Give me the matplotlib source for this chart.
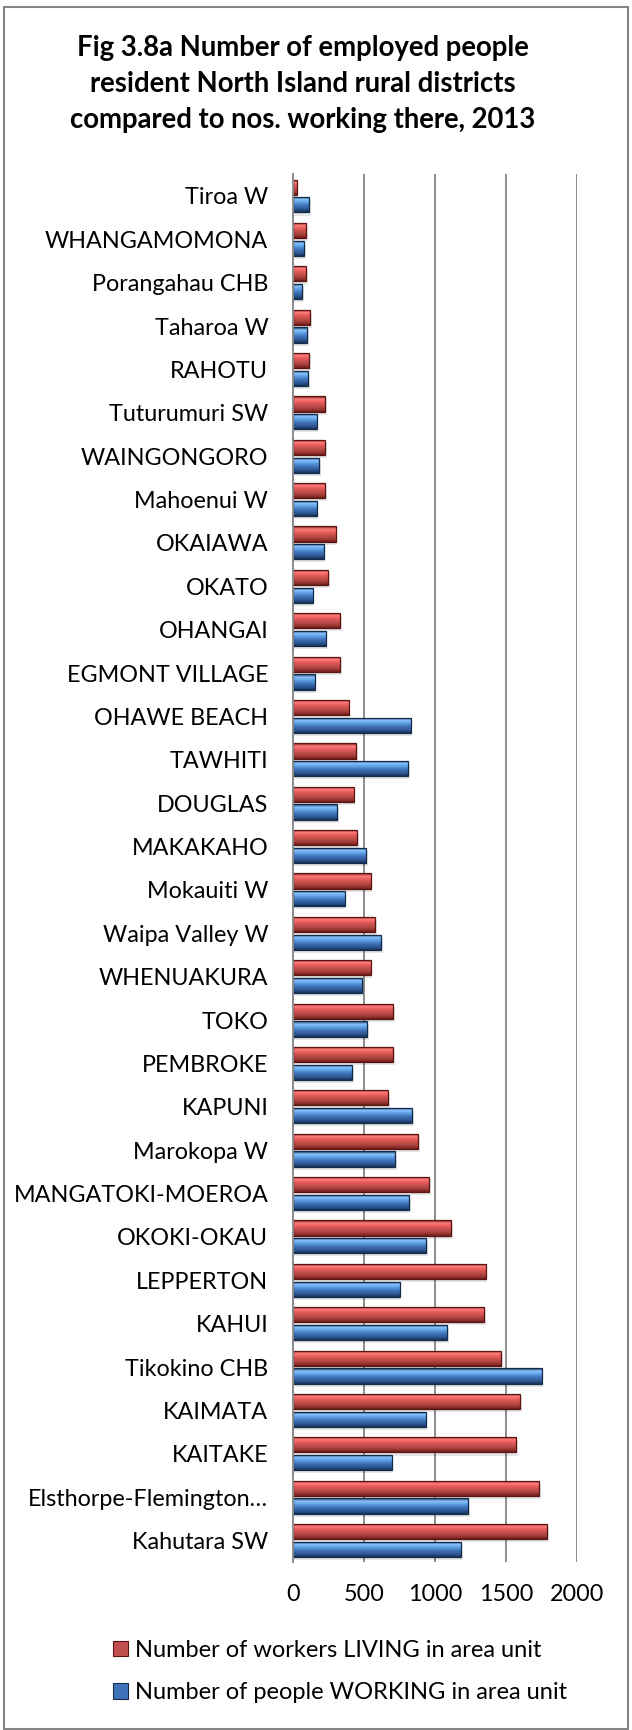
import matplotlib
matplotlib.use("Agg")
import matplotlib.pyplot as plt
import numpy as np
from matplotlib.colors import LinearSegmentedColormap
from matplotlib.patches import Patch, Rectangle

areas = [
    "Tiroa W", "WHANGAMOMONA", "Porangahau CHB", "Taharoa W", "RAHOTU",
    "Tuturumuri SW", "WAINGONGORO", "Mahoenui W", "OKAIAWA", "OKATO",
    "OHANGAI", "EGMONT VILLAGE", "OHAWE BEACH", "TAWHITI", "DOUGLAS",
    "MAKAKAHO", "Mokauiti W", "Waipa Valley W", "WHENUAKURA", "TOKO",
    "PEMBROKE", "KAPUNI", "Marokopa W", "MANGATOKI-MOEROA", "OKOKI-OKAU",
    "LEPPERTON", "KAHUI", "Tikokino CHB", "KAIMATA", "KAITAKE",
    "Elsthorpe-Flemington\u2026", "Kahutara SW",
]
living = [
    24, 89, 89, 118, 110, 224, 224, 224, 299, 245,
    329, 329, 391, 442, 426, 449, 546, 576, 546, 704,
    704, 668, 880, 960, 1115, 1358, 1348, 1468, 1600, 1574,
    1737, 1793,
]
working = [
    110, 75, 61, 96, 103, 165, 181, 165, 214, 136,
    228, 151, 828, 809, 308, 513, 362, 619, 485, 520,
    414, 838, 718, 816, 936, 751, 1087, 1753, 934, 694,
    1235, 1186,
]
series_names = [
    "Number of workers LIVING in area unit",
    "Number of people WORKING in area unit",
]
x_ticks = [0, 500, 1000, 1500, 2000]

W, H = 632, 1730
FONT = ["Lato", "DejaVu Sans"]
plt.rcParams["font.family"] = FONT

red_cmap = LinearSegmentedColormap.from_list(
    "redbevel", ["#7a1f1d", "#ff7d7d", "#e65a58", "#c0504d", "#a63d3a", "#6e1e1c"])
blue_cmap = LinearSegmentedColormap.from_list(
    "bluebevel", ["#1f3a63", "#8ac4ff", "#5b9be0", "#3f72b8", "#2f5a96", "#1b3358"])

fig = plt.figure(figsize=(W / 100, H / 100), dpi=100)
ax_left, ax_right = 293.3 / W, 576.7 / W
ax_top, ax_bot = 174.3 / H, 1562.2 / H
ax = fig.add_axes([ax_left, 1 - ax_bot, ax_right - ax_left, ax_bot - ax_top])

y = np.arange(len(areas))
bar_h = 0.35
off = 0.205

grad = np.linspace(0, 1, 64).reshape(-1, 1)


def bevel_bars(ypos, vals, cmap, edge):
    # soft shadow under each bar
    ax.barh(ypos + 0.07, np.asarray(vals) + 12, height=bar_h, color="#000000",
            alpha=0.10, linewidth=0, zorder=2)
    bars = ax.barh(ypos, vals, height=bar_h, color="none", edgecolor=edge,
                   linewidth=0.9, zorder=4)
    for b in bars:
        x0, y0, w, h = b.get_x(), b.get_y(), b.get_width(), b.get_height()
        im = ax.imshow(grad, cmap=cmap, aspect="auto", interpolation="bilinear",
                       extent=(x0, x0 + w, y0 + h, y0), zorder=3)
        im.set_clip_path(b)
    return bars


bevel_bars(y - off, living, red_cmap, "#5a1513")
bevel_bars(y + off, working, blue_cmap, "#142a4a")

ax.set_xlim(0, 2000)
ax.set_ylim(len(areas) - 0.5, -0.5)
ax.set_xticks(x_ticks)
ax.set_xticklabels([str(t) for t in x_ticks])
ax.set_yticks(y)
ax.set_yticklabels(areas)
ax.tick_params(axis="both", length=0, labelsize=16.8, colors="#000000")
ax.tick_params(axis="x", pad=16)
ax.tick_params(axis="y", pad=18)

ax.grid(axis="x", color="#8c8c8c", linewidth=1.4, zorder=1)
ax.set_axisbelow(True)
for side in ["top", "right", "bottom"]:
    ax.spines[side].set_visible(False)
ax.spines["left"].set_color("#8c8c8c")
ax.spines["left"].set_linewidth(1.4)
ax.spines["left"].set_zorder(5)

fig.text(303 / W, 1 - 84 / H,
         "Fig 3.8a Number of employed people\nresident North Island rural districts\ncompared to nos. working there, 2013",
         ha="center", va="center", fontsize=19.8, fontweight="bold",
         linespacing=1.46)

handles = [
    Patch(facecolor="#c0504d", edgecolor="#5a1513", linewidth=0.8),
    Patch(facecolor="#3f72b8", edgecolor="#142a4a", linewidth=0.8),
]
fig.legend(handles, series_names, loc="upper left",
           bbox_to_anchor=(113 / W, 1 - 1640 / H), frameon=False,
           fontsize=17, handlelength=0.62, handleheight=0.62,
           handletextpad=0.3, labelspacing=0.9, borderaxespad=0, borderpad=0)

fig.patches.append(Rectangle((3.5 / W, 1 - 1729 / H), (628 - 3.5) / W, (1729 - 7) / H,
                             transform=fig.transFigure, fill=False,
                             edgecolor="#868686", linewidth=1.5))

fig.savefig("out.png", dpi=100, facecolor="white")
